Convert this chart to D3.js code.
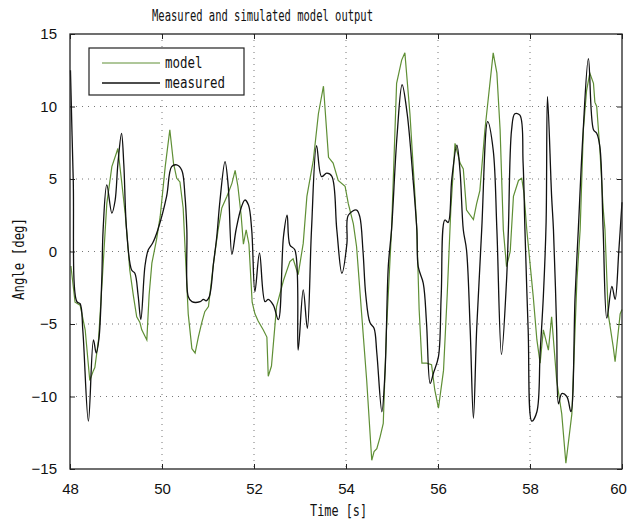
<!DOCTYPE html>
<html>
<head>
<meta charset="utf-8">
<script src="https://cdn.jsdelivr.net/npm/d3@7"></script>
<style>
  body { margin: 0; background: #fff; }
  svg { display: block; }
</style>
</head>
<body>
<svg id="chart"></svg>
<script>
const xTicks = [48, 50, 52, 54, 56, 58, 60];
const yTicks = [-15, -10, -5, 0, 5, 10, 15];

// measured (black)
const timeMeasured = [48.01, 48.07, 48.15, 48.22, 48.28, 48.40, 48.51, 48.57, 48.63, 48.69, 48.72, 48.80, 48.91, 48.98, 49.04, 49.12, 49.17, 49.23, 49.34, 49.41, 49.48, 49.54, 49.63, 49.70, 49.80, 49.91, 50.10, 50.21, 50.32, 50.43, 50.50, 50.54, 50.57, 50.65, 50.83, 50.90, 50.96, 51.03, 51.12, 51.19, 51.26, 51.37, 51.44, 51.52, 51.61, 51.72, 51.80, 51.88, 51.95, 52.02, 52.12, 52.24, 52.31, 52.42, 52.53, 52.64, 52.72, 52.78, 52.89, 52.96, 53.07, 53.16, 53.25, 53.36, 53.47, 53.58, 53.69, 53.80, 53.91, 54.02, 54.05, 54.23, 54.30, 54.37, 54.43, 54.52, 54.61, 54.67, 54.78, 54.85, 54.92, 54.99, 55.11, 55.22, 55.33, 55.46, 55.54, 55.57, 55.68, 55.75, 55.83, 55.90, 56.01, 56.07, 56.15, 56.22, 56.30, 56.41, 56.48, 56.55, 56.62, 56.70, 56.77, 56.84, 56.95, 57.08, 57.20, 57.28, 57.38, 57.49, 57.53, 57.60, 57.67, 57.78, 57.85, 57.89, 57.96, 58.04, 58.15, 58.22, 58.29, 58.35, 58.38, 58.47, 58.51, 58.58, 58.62, 58.69, 58.80, 58.89, 58.98, 59.05, 59.15, 59.27, 59.38, 59.45, 59.52, 59.59, 59.67, 59.78, 59.85, 59.93, 60.00];
const angleMeasured = [12.5, 5, -3.46, -3.6, -5.5, -11.7, -6.1, -7.0, -6, -2, 1.5, 4.6, 2.65, 3.5, 6, 8.15, 6, 1.5, -1.28, -1.5, -3, -4.7, -1.0, 0.1, 0.6, 1.5, 3.8, 5.85, 5.97, 5.6, 3.8, 1.5, -3.1, -3.46, -3.46, -3.3, -3.4, -3.1, -0.8, 1.0, 3.5, 6.2, 4.5, -0.2, 1.5, 3, 3.55, 3.2, 1.5, -2.77, -0.1, -3.46, -3.3, -3.7, -4.7, 1.0, 2.5, 0.45, 0.1, -6.8, -2.65, -5.3, 1.5, 7.3, 5.16, 5.4, 5.2, 1.5, -1.5, 0.56, 2.5, 2.86, 2.4, 0, -3, -4.9, -5.3, -7, -11.05, -8.2, -1, 1.5, 8, 11.5, 9.5, 4.9, 1.5, -1.05, -2.2, -4.9, -9.1, -8.4, -7.25, -3, 2.17, 2.0, 5, 7.34, 5.5, 1.5, 0.1, -5.4, -11.5, -5.4, 1.5, 8.95, 7.0, 1.5, -7.1, -2.0, 1.5, 8.4, 9.5, 9.4, 6.1, 1.5, -5.4, -11.7, -11.05, -7, -3.1, 2, 10.7, 3.8, 1.5, -5.4, -10.5, -9.8, -10.0, -11.05, -3.1, 1.5, 8, 13.3, 8.4, 8.15, 7.2, 1.5, -4.6, -2.4, -3.3, 0, 3.4];

// model (green)
const timeModel = [48.02, 48.11, 48.22, 48.33, 48.43, 48.51, 48.54, 48.62, 48.70, 48.80, 48.91, 49.02, 49.04, 49.12, 49.20, 49.23, 49.30, 49.38, 49.45, 49.52, 49.56, 49.67, 49.72, 49.78, 49.88, 49.96, 50.07, 50.17, 50.25, 50.32, 50.39, 50.46, 50.52, 50.57, 50.65, 50.72, 50.79, 50.86, 50.93, 51.01, 51.12, 51.22, 51.30, 51.41, 51.52, 51.59, 51.65, 51.72, 51.77, 51.83, 51.89, 51.96, 52.02, 52.09, 52.20, 52.28, 52.31, 52.38, 52.49, 52.64, 52.78, 52.85, 52.96, 53.07, 53.15, 53.29, 53.40, 53.51, 53.62, 53.72, 53.83, 53.98, 54.05, 54.16, 54.23, 54.34, 54.45, 54.56, 54.61, 54.67, 54.74, 54.81, 54.88, 54.99, 55.10, 55.21, 55.28, 55.39, 55.50, 55.54, 55.59, 55.65, 55.75, 55.86, 55.93, 56.01, 56.12, 56.20, 56.28, 56.37, 56.48, 56.55, 56.62, 56.77, 56.84, 56.91, 57.02, 57.20, 57.28, 57.35, 57.42, 57.49, 57.57, 57.64, 57.75, 57.82, 57.87, 57.93, 58.07, 58.15, 58.22, 58.29, 58.40, 58.47, 58.58, 58.69, 58.78, 58.91, 59.02, 59.09, 59.16, 59.23, 59.30, 59.38, 59.41, 59.45, 59.52, 59.59, 59.63, 59.70, 59.81, 59.85, 59.96, 60.00];
const angleModel = [-1, -3.5, -3.7, -5.4, -8.9, -8.2, -8.0, -6.1, -2, 3.3, 5.85, 6.9, 7.1, 4.9, 2.6, 1.5, -1.28, -3.1, -4.5, -4.9, -5.4, -6.1, -3, -0.8, 0.8, 2.4, 5.85, 8.4, 6.1, 5.05, 4.8, 3, -1, -4.3, -6.7, -7.0, -5.9, -4.95, -4.15, -3.8, -0.8, 1.5, 3, 3.8, 4.7, 5.6, 4.5, 2.5, 0.5, 1.5, 0.5, -3.5, -4.3, -4.8, -5.4, -5.9, -8.6, -7.9, -3.8, -2.0, -0.7, -0.5, -1.6, 0.56, 3.8, 6.3, 9.5, 11.4, 6.5, 6.1, 4.9, 4.5, 3.3, 1.9, 0.33, -4.3, -8.9, -14.4, -13.8, -13.6, -12.8, -11.85, -5.4, 1.5, 11.6, 13.2, 13.7, 9.5, 3.8, 1.5, -4, -7.7, -7.7, -7.8, -9.55, -10.8, -8.2, -3, 3, 7.46, 6.1, 5.7, 2.86, 2.2, 3.3, 4.2, 8.4, 13.7, 12.3, 8.4, 1.5, -1.05, 0, 3.8, 4.9, 5.05, 4, 1.5, -3.1, -6.1, -7.7, -5.4, -6.8, -4.5, -8.9, -11.2, -14.6, -11.2, -2.0, 1.5, 8.4, 11.1, 12.3, 11.6, 10.3, 10.0, 7, 3, 1.5, -4.3, -6.6, -7.6, -4.3, -4.0];

const width = 629;
const height = 524;
const marginTop = 34;
const marginRight = 7;
const marginBottom = 55;
const marginLeft = 70;
const greenColor = "#5f8f35";
const tickFont = "'Liberation Sans Narrow', 'Liberation Sans', Arial, sans-serif";
const monoFont = "'DejaVu Sans Mono', monospace";

const svg = d3.select("#chart").attr("width", width).attr("height", height);

const x = d3.scaleLinear().domain([48, 60]).range([marginLeft, width - marginRight]);
const y = d3.scaleLinear().domain([-15, 15]).range([height - marginBottom, marginTop]);

// grid
svg.append("g")
  .selectAll("line")
  .data(xTicks.slice(1, -1))
  .join("line")
  .attr("x1", (d) => x(d)).attr("x2", (d) => x(d))
  .attr("y1", marginTop).attr("y2", height - marginBottom)
  .attr("stroke", "#777").attr("stroke-width", 1)
  .attr("stroke-dasharray", "1,5");
svg.append("g")
  .selectAll("line")
  .data(yTicks.slice(1, -1))
  .join("line")
  .attr("y1", (d) => y(d)).attr("y2", (d) => y(d))
  .attr("x1", marginLeft).attr("x2", width - marginRight)
  .attr("stroke", "#777").attr("stroke-width", 1)
  .attr("stroke-dasharray", "1,5");

// axes with inward ticks on all four sides
const axisStyle = (g) => {
  g.select(".domain").remove();
  g.selectAll(".tick line").attr("stroke", "#222");
  g.selectAll("text").attr("font-family", tickFont).attr("font-size", 15).attr("fill", "#111");
};
svg.append("g")
  .attr("transform", `translate(0,${height - marginBottom})`)
  .call(d3.axisBottom(x).tickValues(xTicks).tickSizeInner(-5).tickPadding(14).tickFormat(d3.format("d")))
  .call(axisStyle)
  .selectAll(".tick text")
  .attr("dx", (d) => (d === 60 ? -4 : 0));
svg.append("g")
  .attr("transform", `translate(0,${marginTop})`)
  .call(d3.axisTop(x).tickValues(xTicks).tickSizeInner(-5).tickFormat(""))
  .call(axisStyle);
svg.append("g")
  .attr("transform", `translate(${marginLeft},0)`)
  .call(d3.axisLeft(y).tickValues(yTicks).tickSizeInner(-5).tickPadding(13).tickFormat(d3.format("d")))
  .call(axisStyle);
svg.append("g")
  .attr("transform", `translate(${width - marginRight},0)`)
  .call(d3.axisRight(y).tickValues(yTicks).tickSizeInner(-5).tickFormat(""))
  .call(axisStyle);

// lines
const lineModel = d3.line()
  .x((d) => x(d[0]))
  .y((d) => y(d[1]));
const lineMeasured = d3.line()
  .x((d) => x(d[0]))
  .y((d) => y(d[1]))
  .curve(d3.curveCatmullRom.alpha(0.5));

svg.append("path")
  .datum(d3.zip(timeModel, angleModel))
  .attr("fill", "none")
  .attr("stroke", greenColor)
  .attr("stroke-width", 1.2)
  .attr("d", lineModel);

svg.append("path")
  .datum(d3.zip(timeMeasured, angleMeasured))
  .attr("fill", "none")
  .attr("stroke", "#111")
  .attr("stroke-width", 1.3)
  .attr("stroke-linejoin", "round")
  .attr("d", lineMeasured);

// frame
svg.append("rect")
  .attr("x", marginLeft).attr("y", marginTop)
  .attr("width", width - marginLeft - marginRight)
  .attr("height", height - marginTop - marginBottom)
  .attr("fill", "none").attr("stroke", "#222").attr("stroke-width", 1.3);

// legend
const legend = svg.append("g").attr("transform", "translate(89,48)");
legend.append("rect")
  .attr("width", 155).attr("height", 47)
  .attr("fill", "#fff").attr("stroke", "#222").attr("stroke-width", 1.2);
const legendItems = [
  { label: "model", color: greenColor, w: 1 },
  { label: "measured", color: "#111", w: 1.4 },
];
legendItems.forEach((item, i) => {
  const yy = 15 + i * 20;
  legend.append("line")
    .attr("x1", 13).attr("x2", 71).attr("y1", yy).attr("y2", yy)
    .attr("stroke", item.color).attr("stroke-width", item.w);
  legend.append("text")
    .attr("x", 76).attr("y", yy + 5)
    .attr("font-family", monoFont).attr("font-size", 15)
    .attr("textLength", item.label.length * 7.5)
    .attr("lengthAdjust", "spacingAndGlyphs")
    .attr("fill", "#111")
    .text(item.label);
});

// title and axis labels
svg.append("text")
  .attr("x", 152).attr("y", 21)
  .attr("font-family", monoFont).attr("font-size", 16)
  .attr("textLength", 221).attr("lengthAdjust", "spacingAndGlyphs")
  .attr("fill", "#111")
  .text("Measured and simulated model output");

svg.append("text")
  .attr("x", 310).attr("y", 516)
  .attr("font-family", monoFont).attr("font-size", 16)
  .attr("textLength", 57).attr("lengthAdjust", "spacingAndGlyphs")
  .attr("fill", "#111")
  .text("Time [s]");

svg.append("text")
  .attr("transform", "translate(24,300) rotate(-90)")
  .attr("font-family", monoFont).attr("font-size", 16)
  .attr("textLength", 82).attr("lengthAdjust", "spacingAndGlyphs")
  .attr("fill", "#111")
  .text("Angle [deg]");
</script>
</body>
</html>
